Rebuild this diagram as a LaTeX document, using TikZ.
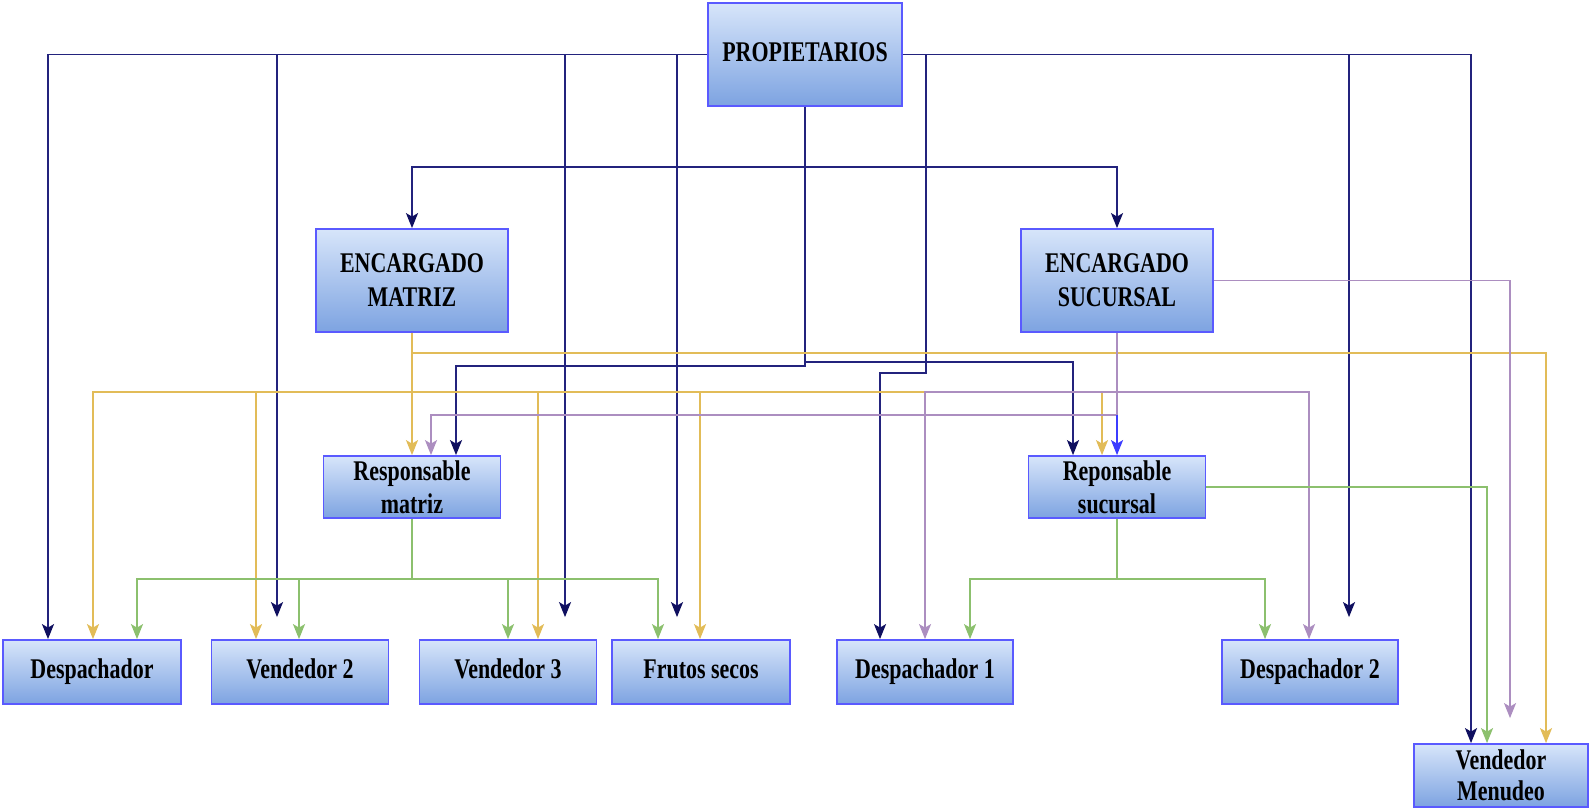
\documentclass[tikz,border=0pt]{standalone}
\usepackage{fontspec}
\setmainfont{Liberation Serif}[FakeStretch=0.77]
\usetikzlibrary{arrows.meta,calc}

\definecolor{navy}{RGB}{35,35,125}
\definecolor{navytip}{RGB}{15,15,95}
\definecolor{gold}{RGB}{226,188,88}
\definecolor{lilac}{RGB}{172,142,192}
\definecolor{leaf}{RGB}{140,192,110}
\definecolor{vivid}{RGB}{60,60,255}
\definecolor{boxedge}{RGB}{90,90,255}
\definecolor{shadetop}{RGB}{215,229,250}
\definecolor{shadebot}{RGB}{125,163,225}

\begin{document}
\begin{tikzpicture}[x=1pt,y=-1pt,
  box/.style={draw=boxedge, line width=1.8pt, top color=shadetop, bottom color=shadebot,
    inner sep=0pt, align=center, text=black,
    font=\fontsize{28.5}{34}\selectfont\bfseries},
  oneline/.style={text height=19pt, text depth=6pt},
  bigbox/.style={box, minimum width=193pt, minimum height=103pt},
  midbox/.style={box, minimum width=177pt, minimum height=62pt,
    font=\fontsize{28.5}{33}\selectfont\bfseries},
  leafbox/.style={box, oneline, minimum width=177pt, minimum height=64pt},
  wire/.style={line width=1.9pt},
  tip/.style={-{Stealth[length=15pt,width=12pt,inset=3.5pt,#1]}},
  navyline/.style={wire, draw=navy, tip={color=navytip}},
  goldline/.style={wire, draw=gold, tip={}},
  lilacline/.style={wire, draw=lilac, tip={}},
  leafline/.style={wire, draw=leaf, tip={}},
  short/.style={shorten >=22pt}
]
\useasboundingbox (0,0) rectangle (1589,808);

% boxes
\node[bigbox, oneline, minimum width=194pt] (P) at (805,54.5) {PROPIETARIOS};
\node[bigbox, minimum width=192pt] (EM) at (412,280.5) {ENCARGADO\\MATRIZ};
\node[bigbox, minimum width=192pt] (ES) at (1117,280.5) {ENCARGADO\\SUCURSAL};
\node[midbox] (RM) at (412,487) {Responsable\\matriz};
\node[midbox] (RS) at (1117,487) {Reponsable\\sucursal};
\node[leafbox, minimum width=178pt] (D0) at (92,672) {Despachador};
\node[leafbox] (V2) at (300,672) {Vendedor 2};
\node[leafbox] (V3) at (508,672) {Vendedor 3};
\node[leafbox, minimum width=178pt] (FS) at (701,672) {Frutos secos};
\node[leafbox, minimum width=176pt] (D1) at (925,672) {Despachador 1};
\node[leafbox, minimum width=176pt] (D2) at (1310,672) {Despachador 2};
\node[box, minimum width=174pt, minimum height=63pt,
  font=\fontsize{28.5}{31}\selectfont\bfseries] (VM) at (1501,775.5) {Vendedor\\Menudeo};

% routing levels
\coordinate (yEnc) at (0,167);
\coordinate (yYel) at (0,353);
\coordinate (yRS) at (0,362);
\coordinate (yRM) at (0,366);
\coordinate (yFan) at (0,392);
\coordinate (yPur) at (0,415);
\coordinate (yGrn) at (0,579);
\coordinate (k1) at (926,373);

% owners
\draw[navyline] (P.west) -| ([xshift=-44pt]D0.north);
\draw[navyline, short] (P.west) -| ([xshift=-23pt]V2.north);
\draw[navyline, short] (P.west) -| ([xshift=57pt]V3.north);
\draw[navyline, short] (P.west) -| ([xshift=-24pt]FS.north);
\draw[navyline] (P.east) -| (k1) -| ([xshift=-45pt]D1.north);
\draw[navyline, short] (P.east) -| ([xshift=39pt]D2.north);
\draw[navyline] (P.east) -| ([xshift=-30pt]VM.north);
\draw[navyline] (P.south) -- (P.south |- yEnc) -| (EM.north);
\draw[navyline] (P.south) -- (P.south |- yEnc) -| (ES.north);
\draw[navyline] (P.south) -- (P.south |- yRM) -| ([xshift=44pt]RM.north);
\draw[navyline] (P.south) -- (P.south |- yRS) -| ([xshift=-44pt]RS.north);

% head office manager
\draw[goldline] (EM.south) -- (RM.north);
\draw[goldline] (EM.south) -- (EM.south |- yYel) -| ([xshift=45pt]VM.north);
\draw[goldline] (EM.south) -- (EM.south |- yFan) -| ([xshift=1pt]D0.north);
\draw[goldline] (EM.south) -- (EM.south |- yFan) -| ([xshift=-44pt]V2.north);
\draw[goldline] (EM.south) -- (EM.south |- yFan) -| ([xshift=30pt]V3.north);
\draw[goldline] (EM.south) -- (EM.south |- yFan) -| ([xshift=-1pt]FS.north);
\draw[goldline] (EM.south) -- (EM.south |- yFan) -| ([xshift=-15pt]RS.north);

% branch manager
\draw[lilacline, shorten >=25pt] (ES.east) -| ([xshift=9pt]VM.north);
\draw[lilacline] (ES.south) -- (ES.south |- yPur) -| ([xshift=19pt]RM.north);
\draw[lilacline] (ES.south) -- (ES.south |- yFan) -| (D1.north);
\draw[lilacline] (ES.south) -- (ES.south |- yFan) -| ([xshift=-1pt]D2.north);
\draw[wire, draw=lilac] (ES.south) -- (ES.south |- yPur);
\draw[wire, draw=vivid, tip={}] (ES.south |- yPur) -- (RS.north);

% head office supervisor
\draw[leafline] (RM.south) -- (RM.south |- yGrn) -| ([xshift=45pt]D0.north);
\draw[leafline] (RM.south) -- (RM.south |- yGrn) -| ([xshift=-1pt]V2.north);
\draw[leafline] (RM.south) -- (RM.south |- yGrn) -| (V3.north);
\draw[leafline] (RM.south) -- (RM.south |- yGrn) -| ([xshift=-43pt]FS.north);

% branch supervisor
\draw[leafline] (RS.south) -- (RS.south |- yGrn) -| ([xshift=45pt]D1.north);
\draw[leafline] (RS.south) -- (RS.south |- yGrn) -| ([xshift=-45pt]D2.north);
\draw[leafline] (RS.east) -| ([xshift=-14pt]VM.north);
\end{tikzpicture}
\end{document}
